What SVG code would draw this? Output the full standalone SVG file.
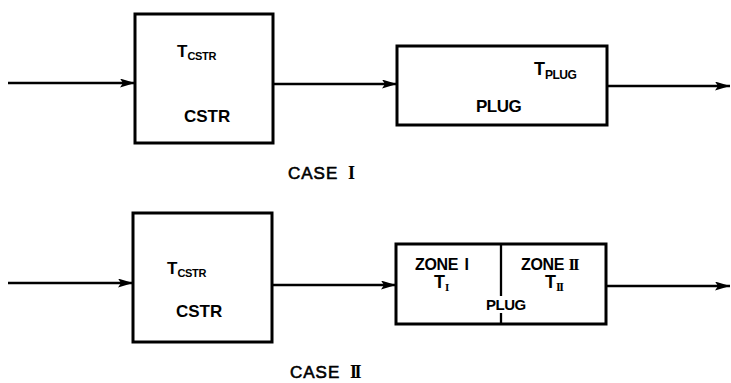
<svg xmlns="http://www.w3.org/2000/svg" width="731" height="383" viewBox="0 0 731 383">
<style>
.box{fill:none;stroke:#000;stroke-width:3}
.ln{fill:none;stroke:#000;stroke-width:2.3}
.b{font-family:"Liberation Sans",Arial,sans-serif;font-weight:bold;fill:#000}
.r{font-family:"Liberation Sans",Arial,sans-serif;fill:#000;stroke:#000;stroke-width:0.6}
.s{font-family:"Liberation Serif","Times New Roman",serif;font-weight:bold;fill:#000}
</style>
<defs>
<marker id="ah" viewBox="0 0 15 9" refX="15" refY="4.5" markerWidth="15" markerHeight="9" markerUnits="userSpaceOnUse" orient="auto">
<path d="M0,0 L15,4.5 L0,9 L3,4.5 Z" fill="#000"/>
</marker>
</defs>
<rect width="731" height="383" fill="#fff"/>
<g id="connectors">
<line class="ln" x1="8" y1="83" x2="135" y2="83" marker-end="url(#ah)"/>
<line class="ln" x1="273" y1="84" x2="397" y2="84" marker-end="url(#ah)"/>
<line class="ln" x1="607" y1="86" x2="730" y2="86" marker-end="url(#ah)"/>
<line class="ln" x1="8" y1="283" x2="133" y2="283" marker-end="url(#ah)"/>
<line class="ln" x1="272" y1="285" x2="396" y2="285" marker-end="url(#ah)"/>
<line class="ln" x1="606" y1="286" x2="730" y2="286" marker-end="url(#ah)"/>
</g>
<g id="cstr1">
<rect class="box" x="135" y="14" width="138" height="129"/>
<text class="b" x="177" y="57" font-size="17">T<tspan font-size="11" dy="3" letter-spacing="-0.3">CSTR</tspan></text>
<text class="b" x="184" y="122" font-size="17">CSTR</text>
</g>
<g id="plug1">
<rect class="box" x="397" y="46" width="210" height="79"/>
<text class="b" x="534" y="75" font-size="18">T<tspan font-size="12" dy="4" letter-spacing="-0.5">PLUG</tspan></text>
<text class="b" x="476" y="112" font-size="17" letter-spacing="-0.5">PLUG</text>
</g>
<g id="label1">
<text class="r" x="288" y="179" font-size="17" letter-spacing="1">CASE <tspan class="s" font-size="18" dx="4" stroke-width="0">I</tspan></text>
</g>
<g id="cstr2">
<rect class="box" x="133" y="213" width="139" height="129"/>
<text class="b" x="167" y="274" font-size="17">T<tspan font-size="11" dy="3" letter-spacing="-0.3">CSTR</tspan></text>
<text class="b" x="176" y="317" font-size="17">CSTR</text>
</g>
<g id="plug2">
<rect class="box" x="396" y="244" width="210" height="80"/>
<line class="ln" x1="501" y1="244" x2="501" y2="296"/>
<line class="ln" x1="501" y1="313" x2="501" y2="324"/>
<text class="b" x="415" y="270" font-size="16" letter-spacing="-0.3">ZONE <tspan dx="2">I</tspan></text>
<text class="b" x="521" y="270" font-size="16" letter-spacing="-0.3">ZONE <tspan class="s" font-size="17" letter-spacing="-2">II</tspan></text>
<text class="b" x="434" y="288" font-size="18">T<tspan class="s" font-size="11" dy="3">I</tspan></text>
<text class="b" x="545" y="288" font-size="18">T<tspan class="s" font-size="12" dy="3" letter-spacing="-1.5">II</tspan></text>
<text class="b" x="486" y="310" font-size="15" letter-spacing="-0.5">PLUG</text>
</g>
<g id="label2">
<text class="r" x="290" y="378" font-size="17" letter-spacing="1">CASE <tspan class="s" font-size="18" dx="4" stroke-width="0" letter-spacing="-2.5">II</tspan></text>
</g>
</svg>
